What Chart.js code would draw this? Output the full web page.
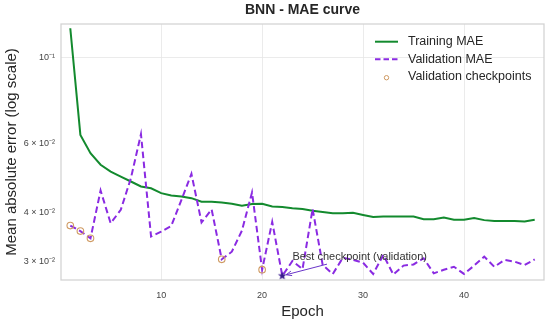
<!DOCTYPE html>
<html><head><meta charset="utf-8">
<script src="https://cdn.jsdelivr.net/npm/chart.js@4"></script>
<style>html,body{margin:0;padding:0;background:#fff}#wrap{width:550px;height:323px}</style>
</head><body><div id="wrap"><canvas id="c" width="550" height="323"></canvas></div>
<script>
// ---- data ----
const epochs = [1,2,3,4,5,6,7,8,9,10,11,12,13,14,15,16,17,18,19,20,21,22,23,24,25,26,27,28,29,30,31,32,33,34,35,36,37,38,39,40,41,42,43,44,45,46,47];
const trainMAE = [0.1187,0.0632,0.0567,0.0530,0.0509,0.0494,0.0480,0.0466,0.0461,0.0448,
  0.0442,0.0439,0.0435,0.0426,0.0426,0.0424,0.0421,0.0416,0.0420,0.0421,
  0.0414,0.0413,0.0410,0.0408,0.0404,0.0401,0.0398,0.0398,0.0399,0.0394,
  0.0389,0.0390,0.0390,0.0390,0.0390,0.0384,0.0384,0.0388,0.0383,0.0383,
  0.0387,0.0382,0.0380,0.0380,0.0380,0.0379,0.0383];
const valMAE = [0.0370,0.0358,0.0343,0.0455,0.0375,0.0406,0.0489,0.0635,0.0347,0.0357,
  0.0369,0.0430,0.0502,0.0377,0.0407,0.0303,0.0317,0.0359,0.0450,0.0285,
  0.0378,0.0275,0.0300,0.0286,0.0408,0.0293,0.0278,0.0306,0.0302,0.0297,
  0.0278,0.0311,0.0277,0.0292,0.0294,0.0305,0.0279,0.0285,0.0290,0.0278,
  0.0292,0.0308,0.0290,0.0302,0.0299,0.0293,0.0303];
const checkpointEpochs = [1,2,3,16,20];
const bestEpoch = 22;
const xTicks = [10,20,30,40];
const yTicks = [0.03,0.04,0.06,0.1];
const yTickLabels = ['3 × 10⁻²','4 × 10⁻²','6 × 10⁻²','10⁻¹'];
const xRange = [0.08, 47.92];
const yRange = [0.02682, 0.1217];
const seriesLabels = ['Training MAE','Validation MAE','Validation checkpoints','Best checkpoint'];
const annotationText = 'Best checkpoint (validation)';
const annotationOffset = [1, 1.1]; // epochs to the right, factor above

// ---- styles ----
const FONT = '"Liberation Sans", Arial, Helvetica, sans-serif';
const GREEN = '#138a2e', PURPLE = '#8a2be2', PERU = '#cf9a62', STAR = '#3a1c8e', ARROW = '#6a35c9';
const TXT = '#262626';

function makeStar(r, color){
  const s = Math.ceil(r*2+2), c = document.createElement('canvas');
  c.width = c.height = s;
  const g = c.getContext('2d');
  g.fillStyle = color; g.beginPath();
  for (let i=0;i<10;i++){
    const rad = i%2 ? r*0.42 : r, a = -Math.PI/2 + i*Math.PI/5;
    g.lineTo(s/2 + rad*Math.cos(a), s/2 + rad*Math.sin(a));
  }
  g.closePath(); g.fill();
  return c;
}

const trainPts = epochs.map((e,i)=>({x:e, y:trainMAE[i]}));
const valPts = epochs.map((e,i)=>({x:e, y:valMAE[i]}));
const ckPts = checkpointEpochs.map(e=>({x:e, y:valMAE[epochs.indexOf(e)]}));
const bestVal = valMAE[epochs.indexOf(bestEpoch)];
const bestPts = [{x:bestEpoch, y:bestVal}];

const framePlugin = {
  id:'frame',
  beforeDraw(chart){
    const c = chart.ctx; c.save(); c.fillStyle='#fff'; c.fillRect(0,0,chart.width,chart.height); c.restore();
  },
  afterDatasetsDraw(chart){
    const {ctx, chartArea:a} = chart;
    ctx.save();
    ctx.strokeStyle = '#d2d2d2'; ctx.lineWidth = 1.25;
    ctx.strokeRect(a.left, a.top, a.right-a.left, a.bottom-a.top);
    ctx.restore();
  }
};

const annotationPlugin = {
  id:'annot',
  afterDatasetsDraw(chart){
    const {ctx} = chart, xs = chart.scales.x, ys = chart.scales.y;
    const sx = xs.getPixelForValue(bestEpoch), sy = ys.getPixelForValue(bestVal);
    const tx = xs.getPixelForValue(bestEpoch + annotationOffset[0]);
    const ty = ys.getPixelForValue(bestVal * annotationOffset[1]);
    ctx.save();
    ctx.font = '11px ' + FONT;
    ctx.textBaseline = 'alphabetic'; ctx.textAlign = 'left';
    ctx.fillStyle = '#333';
    ctx.fillText(annotationText, tx, ty);
    const w = ctx.measureText(annotationText).width;
    const cx = tx + w/2, cy = ty - 4;
    const bottom = ty + 4.5;
    const t = (bottom - cy) / (sy - cy);
    const ax = cx + t*(sx - cx), ay = bottom;
    const dx = sx - ax, dy = sy - ay, L = Math.hypot(dx,dy);
    const ux = dx/L, uy = dy/L;
    const ex = sx - ux*4, ey = sy - uy*4;
    ctx.strokeStyle = ARROW; ctx.lineWidth = 1;
    ctx.beginPath(); ctx.moveTo(ax, ay); ctx.lineTo(ex, ey); ctx.stroke();
    const hl = 6, ang = 0.4;
    const bx = -ux, by = -uy;
    ctx.beginPath();
    ctx.moveTo(ex + hl*(bx*Math.cos(ang) - by*Math.sin(ang)), ey + hl*(bx*Math.sin(ang) + by*Math.cos(ang)));
    ctx.lineTo(ex, ey);
    ctx.lineTo(ex + hl*(bx*Math.cos(-ang) - by*Math.sin(-ang)), ey + hl*(bx*Math.sin(-ang) + by*Math.cos(-ang)));
    ctx.stroke();
    ctx.restore();
  }
};

const legendPlugin = {
  id:'customLegend',
  afterDraw(chart){
    const {ctx, chartArea:a} = chart;
    const x0 = a.right - 169, x1 = x0 + 23, tx = x0 + 33;
    const y0 = a.top + 17.7, dy = 17.5;
    ctx.save();
    ctx.font = '12.5px ' + FONT;
    ctx.textBaseline = 'middle'; ctx.textAlign = 'left'; ctx.fillStyle = TXT;
    // training
    ctx.strokeStyle = GREEN; ctx.lineWidth = 2;
    ctx.beginPath(); ctx.moveTo(x0, y0); ctx.lineTo(x1, y0); ctx.stroke();
    ctx.fillText(seriesLabels[0], tx, y0);
    // validation
    ctx.strokeStyle = PURPLE; ctx.setLineDash([5.5,3]);
    ctx.beginPath(); ctx.moveTo(x0, y0+dy); ctx.lineTo(x1, y0+dy); ctx.stroke();
    ctx.setLineDash([]);
    ctx.fillText(seriesLabels[1], tx, y0+dy);
    // checkpoints
    ctx.strokeStyle = PERU; ctx.lineWidth = 1;
    ctx.beginPath(); ctx.arc((x0+x1)/2, y0+2*dy+1, 2.2, 0, Math.PI*2); ctx.stroke();
    ctx.fillText(seriesLabels[2], tx, y0+2*dy);
    ctx.restore();
  }
};

new Chart(document.getElementById('c'), {
  type:'line',
  data:{ datasets:[
    {label:seriesLabels[0], data:trainPts, borderColor:GREEN, borderWidth:2, pointRadius:0, tension:0, fill:false, order:4},
    {label:seriesLabels[1], data:valPts, borderColor:PURPLE, borderWidth:2, borderDash:[6.5,3.5], pointRadius:0, tension:0, fill:false, order:3},
    {label:seriesLabels[2], data:ckPts, showLine:false, pointStyle:'circle', pointRadius:3.3, pointBorderWidth:1.1, pointBorderColor:PERU, pointBackgroundColor:'rgba(0,0,0,0)', order:2},
    {label:seriesLabels[3], data:bestPts, showLine:false, pointStyle:makeStar(4.6, STAR), pointRadius:5, order:1}
  ]},
  options:{
    responsive:false, devicePixelRatio:1, animation:false,
    layout:{padding:{left:0, right:4, top:0, bottom:0}},
    plugins:{
      legend:{display:false}, tooltip:{enabled:false},
      title:{display:true, text:'BNN - MAE curve', fullSize:false, color:TXT,
        font:{family:FONT, size:14, weight:'bold'}, padding:{top:2, bottom:5.2}}
    },
    scales:{
      x:{ type:'linear', min:xRange[0], max:xRange[1],
        afterBuildTicks(s){ s.ticks = xTicks.map(v=>({value:v})); },
        afterFit(s){ s.height = 43; },
        ticks:{ callback:(v)=>String(v), color:'#444', font:{family:FONT, size:9}, padding:10, maxRotation:0 },
        grid:{ color:'#e6e6e6', lineWidth:0.8, drawTicks:false },
        border:{ display:false },
        title:{ display:true, text:'Epoch', color:TXT, font:{family:FONT, size:15}, padding:{top:0, bottom:2} }
      },
      y:{ type:'logarithmic', min:yRange[0], max:yRange[1],
        afterBuildTicks(s){ s.ticks = yTicks.map(v=>({value:v})); },
        afterFit(s){ s.width = 61; },
        ticks:{ callback:(v)=>{ const i = yTicks.indexOf(v); return i>=0 ? yTickLabels[i] : ''; },
          color:'#444', font:{family:FONT, size:9}, padding:6 },
        grid:{ color:(ctx)=> (ctx.tick && ctx.tick.value===0.1) ? '#e6e6e6' : 'rgba(0,0,0,0)', lineWidth:0.8, drawTicks:false },
        border:{ display:false },
        title:{ display:true, text:'Mean absolute error (log scale)', color:TXT, font:{family:FONT, size:15}, padding:{top:3, bottom:0} }
      }
    }
  },
  plugins:[framePlugin, annotationPlugin, legendPlugin]
});
</script>
</body></html>
